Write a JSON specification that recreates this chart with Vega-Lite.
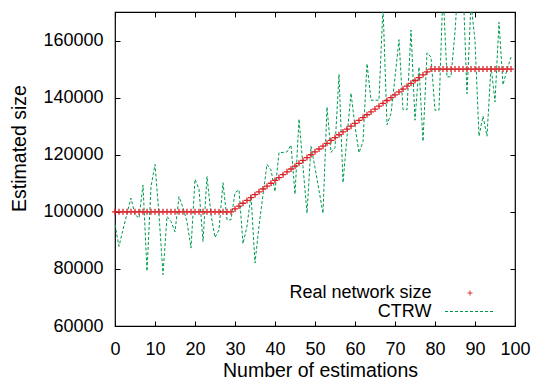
{
  "$schema": "https://vega.github.io/schema/vega-lite/v6.json",
  "width": 400,
  "height": 314,
  "autosize": {"type": "none"},
  "padding": {"left": 115, "top": 12, "right": 19, "bottom": 54},
  "background": "white",
  "config": {
    "view": {"stroke": "black", "strokeWidth": 1.2},
    "font": "Liberation Sans",
    "axis": {
      "grid": false, "domain": false,
      "labelFont": "Liberation Sans", "labelFontSize": 18, "labelColor": "black",
      "tickColor": "black", "tickSize": -5, "tickWidth": 1,
      "labelFlush": false, "labelOverlap": false, "labelBound": false,
      "titleFont": "Liberation Sans", "titleFontSize": 19.5, "titleFontWeight": "normal", "titleColor": "black"
    }
  },
  "datasets": {
    "real": [
      {"x":0,"y":100000},{"x":1,"y":100000},{"x":2,"y":100000},{"x":3,"y":100000},{"x":4,"y":100000},
      {"x":5,"y":100000},{"x":6,"y":100000},{"x":7,"y":100000},{"x":8,"y":100000},{"x":9,"y":100000},
      {"x":10,"y":100000},{"x":11,"y":100000},{"x":12,"y":100000},{"x":13,"y":100000},{"x":14,"y":100000},
      {"x":15,"y":100000},{"x":16,"y":100000},{"x":17,"y":100000},{"x":18,"y":100000},{"x":19,"y":100000},
      {"x":20,"y":100000},{"x":21,"y":100000},{"x":22,"y":100000},{"x":23,"y":100000},{"x":24,"y":100000},
      {"x":25,"y":100000},{"x":26,"y":100000},{"x":27,"y":100000},{"x":28,"y":100000},{"x":29,"y":100000},
      {"x":30,"y":101000},{"x":31,"y":102000},{"x":32,"y":103000},{"x":33,"y":104000},{"x":34,"y":105000},
      {"x":35,"y":106000},{"x":36,"y":107000},{"x":37,"y":108000},{"x":38,"y":109000},{"x":39,"y":110000},
      {"x":40,"y":111000},{"x":41,"y":112000},{"x":42,"y":113000},{"x":43,"y":114000},{"x":44,"y":115000},
      {"x":45,"y":116000},{"x":46,"y":117000},{"x":47,"y":118000},{"x":48,"y":119000},{"x":49,"y":120000},
      {"x":50,"y":121000},{"x":51,"y":122000},{"x":52,"y":123000},{"x":53,"y":124000},{"x":54,"y":125000},
      {"x":55,"y":126000},{"x":56,"y":127000},{"x":57,"y":128000},{"x":58,"y":129000},{"x":59,"y":130000},
      {"x":60,"y":131000},{"x":61,"y":132000},{"x":62,"y":133000},{"x":63,"y":134000},{"x":64,"y":135000},
      {"x":65,"y":136000},{"x":66,"y":137000},{"x":67,"y":138000},{"x":68,"y":139000},{"x":69,"y":140000},
      {"x":70,"y":141000},{"x":71,"y":142000},{"x":72,"y":143000},{"x":73,"y":144000},{"x":74,"y":145000},
      {"x":75,"y":146000},{"x":76,"y":147000},{"x":77,"y":148000},{"x":78,"y":149000},{"x":79,"y":150000},
      {"x":80,"y":150000},{"x":81,"y":150000},{"x":82,"y":150000},{"x":83,"y":150000},{"x":84,"y":150000},
      {"x":85,"y":150000},{"x":86,"y":150000},{"x":87,"y":150000},{"x":88,"y":150000},{"x":89,"y":150000},
      {"x":90,"y":150000},{"x":91,"y":150000},{"x":92,"y":150000},{"x":93,"y":150000},{"x":94,"y":150000},
      {"x":95,"y":150000},{"x":96,"y":150000},{"x":97,"y":150000},{"x":98,"y":150000},{"x":99,"y":150000}
    ],
    "ctrw": [
      {"x":0,"y":95500},{"x":1,"y":87900},{"x":2,"y":93700},{"x":3,"y":99500},{"x":4,"y":104800},
      {"x":5,"y":99000},{"x":6,"y":97800},{"x":7,"y":109400},{"x":8,"y":79200},{"x":9,"y":108800},
      {"x":10,"y":116600},{"x":11,"y":99000},{"x":12,"y":78000},{"x":13,"y":98400},{"x":14,"y":96600},
      {"x":15,"y":93000},{"x":16,"y":105300},{"x":17,"y":101500},{"x":18,"y":96500},{"x":19,"y":87300},
      {"x":20,"y":111400},{"x":21,"y":108000},{"x":22,"y":89600},{"x":23,"y":112400},{"x":24,"y":99000},
      {"x":25,"y":91000},{"x":26,"y":93700},{"x":27,"y":110200},{"x":28,"y":97200},{"x":29,"y":97200},
      {"x":30,"y":106700},{"x":31,"y":107700},{"x":32,"y":88800},{"x":33,"y":95000},{"x":34,"y":105900},
      {"x":35,"y":82100},{"x":36,"y":95000},{"x":37,"y":106000},{"x":38,"y":116600},{"x":39,"y":114700},
      {"x":40,"y":107100},{"x":41,"y":120800},{"x":42,"y":120800},{"x":43,"y":121000},{"x":44,"y":123400},
      {"x":45,"y":106200},{"x":46,"y":132500},{"x":47,"y":115800},{"x":48,"y":99500},{"x":49,"y":123000},
      {"x":50,"y":115500},{"x":51,"y":107500},{"x":52,"y":99500},{"x":53,"y":136700},{"x":54,"y":120800},
      {"x":55,"y":122500},{"x":56,"y":148200},{"x":57,"y":110200},{"x":58,"y":126300},{"x":59,"y":141600},
      {"x":60,"y":130000},{"x":61,"y":120700},{"x":62,"y":124500},{"x":63,"y":151900},{"x":64,"y":139100},
      {"x":65,"y":139100},{"x":66,"y":139100},{"x":67,"y":172000},{"x":68,"y":130500},{"x":69,"y":134400},
      {"x":70,"y":147200},{"x":71,"y":160300},{"x":72,"y":135800},{"x":73,"y":135800},{"x":74,"y":163700},
      {"x":75,"y":132100},{"x":76,"y":150700},{"x":77,"y":124700},{"x":78,"y":155700},{"x":79,"y":154200},
      {"x":80,"y":135600},{"x":81,"y":135600},{"x":82,"y":178000},{"x":83,"y":147200},{"x":84,"y":147400},
      {"x":85,"y":163000},{"x":86,"y":185000},{"x":87,"y":180000},{"x":88,"y":141400},{"x":89,"y":173000},
      {"x":90,"y":160000},{"x":91,"y":126500},{"x":92,"y":133500},{"x":93,"y":126500},{"x":94,"y":151000},
      {"x":95,"y":138500},{"x":96,"y":166400},{"x":97,"y":144500},{"x":98,"y":149800},{"x":99,"y":154200}
    ]
  },
  "layer": [
    {
      "data": {"name": "ctrw"},
      "mark": {"type": "line", "strokeDash": [3, 2], "strokeWidth": 1, "clip": true},
      "encoding": {
        "x": {"field": "x", "type": "quantitative",
              "scale": {"domain": [0, 100], "nice": false},
              "axis": {"orient": "top", "labels": false, "title": null, "values": [0,10,20,30,40,50,60,70,80,90,100]}},
        "y": {"field": "y", "type": "quantitative",
              "scale": {"domain": [60000, 170000], "nice": false, "zero": false},
              "axis": {"orient": "right", "labels": false, "title": null, "values": [60000,80000,100000,120000,140000,160000]}},
        "color": {"datum": "CTRW", "type": "nominal",
                  "scale": {"domain": ["Real network size", "CTRW"], "range": ["#dc2027", "#009a4e"]},
                  "legend": {
                    "title": null, "orient": "none", "legendX": 346, "legendY": 272,
                    "padding": 0, "rowPadding": 0.5, "symbolSize": 25, "symbolOffset": 0,
                    "labelAlign": "right", "labelOffset": -47.5,
                    "labelFont": "Liberation Sans", "labelFontSize": 18, "labelColor": "black",
                    "symbolStrokeWidth": 1,
                    "encode": {"symbols": {"update": {
                      "shape": {"signal": "datum.value === 'CTRW' ? 'M-10,0L10,0' : 'M-1,0L1,0M0,-1L0,1'"},
                      "strokeDash": {"signal": "datum.value === 'CTRW' ? [3,2] : [1,0]"},
                      "fill": {"value": "transparent"},
                      "strokeWidth": {"value": 1}
                    }}}
                  }}
      }
    },
    {
      "data": {"name": "real"},
      "mark": {"type": "point", "shape": "M-1,0L1,0M0,-1L0,1", "filled": false, "size": 36, "strokeWidth": 1.3, "opacity": 1},
      "encoding": {
        "x": {"field": "x", "type": "quantitative",
              "scale": {"domain": [0, 100], "nice": false},
              "axis": {"orient": "bottom", "title": "Number of estimations", "values": [0,10,20,30,40,50,60,70,80,90,100],
                       "labelPadding": 19, "titleX": 205, "titleY": 50, "titleAlign": "center", "titleBaseline": "alphabetic"}},
        "y": {"field": "y", "type": "quantitative",
              "scale": {"domain": [60000, 170000], "nice": false, "zero": false},
              "axis": {"orient": "left", "title": "Estimated size", "values": [60000,80000,100000,120000,140000,160000],
                       "format": "d", "labelPadding": 17, "titleX": -90, "titleY": 136, "titleAngle": -90,
                       "titleAlign": "center", "titleBaseline": "alphabetic"}},
        "color": {"datum": "Real network size", "type": "nominal",
                  "scale": {"domain": ["Real network size", "CTRW"], "range": ["#dc2027", "#009a4e"]}}
      }
    }
  ],
  "resolve": {"axis": {"x": "independent", "y": "independent"}}
}
